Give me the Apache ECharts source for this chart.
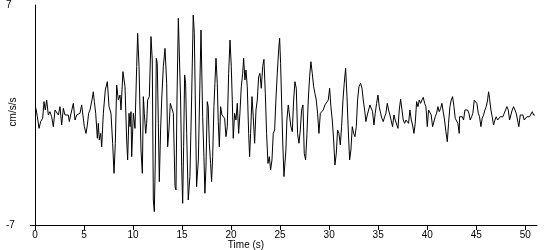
<!DOCTYPE html>
<html>
<head>
<meta charset="utf-8">
<script src="https://cdn.jsdelivr.net/npm/echarts@6/dist/echarts.min.js"></script>
<style>
html,body{margin:0;padding:0;background:#fff;}
#chart{width:550px;height:250px;}
</style>
</head>
<body>
<div id="chart"></div>
<script>
// Time (s)
const times = [
0.10,0.24,0.41,0.58,0.78,0.92,1.05,1.19,1.36,1.53,1.70,1.87,2.04,2.21,2.38,2.55,2.72,2.89,3.06,3.23,3.40,3.50,3.64,3.91,4.08,4.25,4.42,4.59,4.76,4.93,
5.03,5.20,5.34,5.47,5.61,5.81,5.95,6.05,6.19,6.36,6.46,6.56,6.70,6.80,6.97,7.17,7.38,7.55,7.75,7.92,8.06,8.19,
8.33,8.50,8.67,8.77,8.97,9.18,9.35,9.45,9.59,9.69,9.79,9.86,10.03,10.20,10.37,10.47,10.61,10.71,10.81,10.95,11.05,11.15,11.29,11.39,11.49,11.66,11.83,11.96,
12.07,12.17,12.27,12.37,12.47,12.58,12.68,12.81,12.92,13.09,13.26,13.43,13.53,13.66,13.80,13.94,14.11,14.28,14.38,14.48,14.62,14.72,14.85,14.96,15.06,15.16,15.26,15.36,15.47,15.63,15.80,15.97,16.14,16.25,16.35,16.48,16.66,
16.93,17.10,17.23,17.33,17.44,17.57,17.67,17.78,17.91,18.01,18.12,18.25,18.35,18.46,18.59,18.69,18.80,18.93,19.07,19.20,19.34,19.48,19.61,19.75,19.89,20.02,20.12,20.22,20.36,20.50,20.63,20.77,20.90,
21.04,21.18,21.28,21.41,21.52,21.65,21.79,21.89,21.99,22.13,22.26,22.40,22.54,22.67,22.81,22.94,23.08,23.22,23.35,23.49,23.62,23.76,23.90,24.03,24.17,24.30,24.44,24.57,24.71,24.85,24.95,25.05,25.15,25.26,25.39,
25.49,25.59,25.69,25.83,25.97,26.10,26.24,26.38,26.51,26.65,26.78,26.92,27.06,27.19,27.33,27.46,27.60,27.74,27.87,28.01,28.14,28.28,28.42,28.55,28.69,28.82,28.96,29.10,29.23,29.40,29.57,29.74,29.91,
30.05,30.18,30.32,30.46,30.59,30.73,30.86,31.00,31.14,31.27,31.41,31.54,31.68,31.82,31.95,32.09,32.22,32.36,32.50,32.63,32.77,32.90,33.04,33.21,33.35,33.48,33.62,33.75,33.89,34.02,
34.16,34.30,34.43,34.57,34.70,34.84,34.98,35.11,35.25,35.38,35.52,35.66,35.79,35.93,36.06,36.20,36.34,36.47,36.61,36.74,36.88,37.02,37.15,37.29,37.42,37.56,37.70,37.83,37.97,38.10,38.24,38.38,38.51,38.65,38.78,38.92,
39.06,39.19,39.33,39.46,39.60,39.74,39.87,40.01,40.14,40.28,40.41,40.55,40.69,40.82,40.96,41.09,41.23,41.37,41.50,41.64,41.77,41.91,42.05,42.18,42.32,42.45,42.59,42.73,42.86,43.00,43.13,43.27,
43.30,43.44,43.58,43.71,43.85,43.98,44.12,44.26,44.39,44.53,44.66,44.80,44.94,45.07,45.21,45.34,45.48,45.61,45.75,45.89,46.02,46.16,46.26,46.36,46.50,46.63,46.77,46.91,47.04,47.18,47.31,47.45,47.59,47.72,47.86,47.99,
48.13,48.27,48.40,48.54,48.67,48.81,48.95,49.08,49.22,49.35,49.49,49.63,49.76,49.90,50.03,50.17,50.31,50.44,50.58,50.72,50.85,50.99
];
// Acceleration (cm/s/s)
const accel = [
0.42,-0.11,-0.85,-0.42,-0.21,0.85,0.32,0.95,0,0.21,-0.11,-0.74,0.32,0.42,0,0.53,-0.64,0.42,0,0.11,0,-0.42,0,0.74,-0.32,0,0,0.11,0.64,0.74,
-0.74,-1.17,-0.64,0.11,0.32,0.95,1.48,0.85,0.11,-1.48,-0.53,-1.59,-1.17,-2.02,0.11,1.59,2.12,0.53,0.11,-1.80,-3.71,-1.80,
1.91,0.95,1.27,0.32,2.76,1.80,-1.59,-2.86,0.11,-0.74,0.21,-2.65,0.11,-0.85,3.08,5.20,3.08,0.32,-2.23,-3.71,1.17,0.11,-1.17,-0.53,0.95,1.17,4.99,3.50,
-5.41,-6.15,-2.86,3.61,3.29,-0.53,-4.24,-0.95,0.95,3.08,4.24,2.02,-2.02,-0.95,0.74,0.64,0.11,-4.56,-4.77,0.95,6.15,6.05,0.95,-3.29,-5.62,-2.02,2.55,2.02,-1.17,-5.41,-3.92,0.95,6.36,5.20,0.95,-4.56,-2.86,
5.41,-0.11,-2.65,-4.98,-3.29,0.85,0.53,-1.80,-3.08,-4.24,-2.65,0.53,2.02,3.61,2.02,-0.42,-2.02,0.53,0,0.11,-0.21,-1.38,-0.74,2.65,4.77,3.08,0.95,-1.48,0.11,-0.32,0.74,-1.17,0.11,
1.80,2.65,3.61,2.23,2.86,1.80,-1.17,-2.65,-1.17,1.17,-0.11,-1.80,0.32,0.95,2.44,2.65,1.70,3.08,3.54,1.38,-1.17,-3.08,-2.65,-3.50,-2.86,-1.17,-0.95,0.95,2.65,4.14,4.88,3.29,0.95,-1.59,-3.92,
-3.82,-2.23,-0.32,0.64,0.53,-0.74,-1.06,0.95,2.12,1.70,-1.17,-1.80,-0.95,0.32,0.64,-2.44,-2.86,-1.17,0.95,2.44,3.39,2.65,1.80,1.38,0.95,0.11,-1.17,0.11,0,0.32,0.64,0.74,0.95,
1.70,0.53,-0.32,-1.59,-3.18,-2.44,-0.95,-1.17,-1.91,-0.74,0.95,2.02,2.97,1.17,-0.95,-2.86,-2.23,-0.74,-1.17,-1.38,-0.74,0.95,1.80,2.02,1.70,0.95,0.32,-0.42,0,0.11,
0.64,0.53,0.21,-0.64,0.11,0.74,1.27,0.53,0.11,-0.21,-0.42,-0.11,0.11,0.74,0.32,0,-0.11,-0.74,0,-0.32,-0.32,-0.85,0.32,1.00,0.95,-0.32,-0.53,-0.32,-0.42,-0.53,0.32,-0.32,-0.64,-1.17,-0.53,0.85,
0.53,0.95,0.74,0.95,1.12,0.74,0.53,-0.74,0.32,0.42,0,-0.74,-0.64,-0.11,0.11,0.53,0.21,0.42,0.74,0.74,-0.32,-1.06,-1.70,-0.53,0.53,0.95,1.17,0.53,-0.21,-0.32,-0.53,-1.17,
-0.11,-0.21,-0.11,-0.32,0.32,0.42,0.32,0.11,-0.32,-0.11,0.11,0.95,1.06,0.74,0.11,-0.11,-0.74,-0.21,0,0.32,0.53,0.95,1.48,1.06,0.32,-0.11,-0.64,-0.32,-0.11,-0.32,-0.21,-0.11,-0.21,-0.11,0.11,0.32,
0.53,0.32,-0.32,-0.42,0.32,0.53,0.32,0.11,0.11,-0.74,0,-0.11,0,-0.32,-0.21,-0.11,-0.21,-0.11,0,0.21,0,0
];
const xTicks = [0,5,10,15,20,25,30,35,40,45,50];
const yTicks = [-7,7];

const seriesData = times.map((t,i)=>[t, accel[i]]);
const chart = echarts.init(document.getElementById('chart'), null, {renderer:'canvas'});
const font = 'Liberation Sans';
chart.setOption({
  animation:false,
  backgroundColor:'#fff',
  grid:{left:35,right:13,top:5,bottom:25,containLabel:false,outerBoundsMode:'none'},
  xAxis:{
    type:'value',min:0,max:51.2,interval:5,
    axisLine:{show:true,onZero:false,lineStyle:{color:'#000',width:1}},
    axisTick:{show:true,length:5,inside:false,lineStyle:{color:'#000'},customValues:xTicks},
    axisLabel:{color:'#000',fontFamily:font,fontSize:10,margin:5,customValues:xTicks},
    splitLine:{show:false}
  },
  yAxis:{
    type:'value',min:-7,max:7,interval:14,
    axisLine:{show:true,onZero:false,lineStyle:{color:'#000',width:1}},
    axisTick:{show:true,length:5,lineStyle:{color:'#000'},customValues:[-7]},
    axisLabel:{color:'#000',fontFamily:font,fontSize:10,margin:29,align:'left',customValues:yTicks},
    splitLine:{show:false}
  },
  graphic:[
    {type:'text',x:246,y:245,style:{text:'Time (s)',fill:'#000',font:'10px "Liberation Sans"',textAlign:'center',textVerticalAlign:'middle'}},
    {type:'text',x:13,y:112,rotation:Math.PI/2,style:{text:'cm/s/s',fill:'#000',font:'10px "Liberation Sans"',textAlign:'center',textVerticalAlign:'middle'}}
  ],
  series:[{type:'line',data:seriesData,showSymbol:false,symbol:'none',
    lineStyle:{color:'#000',width:1},itemStyle:{color:'#000'}}]
});
</script>
</body>
</html>
